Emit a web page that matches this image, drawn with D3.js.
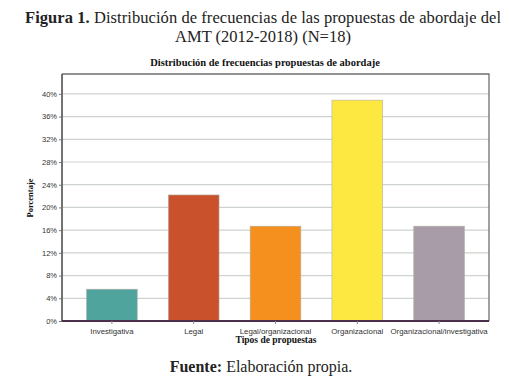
<!DOCTYPE html>
<html>
<head>
<meta charset="utf-8">
<script src="https://cdn.jsdelivr.net/npm/d3@7"></script>
<style>
  body { margin: 0; background: #fff; }
  svg { display: block; }
</style>
</head>
<body>
<div id="chart"></div>
<script>
  // data: 18 proposals
  const categories = ['Investigativa', 'Legal', 'Legal/organizacional', 'Organizacional', 'Organizacional/investigativa'];
  const counts = [1, 4, 3, 7, 3];
  const percents = [5.6, 22.2, 16.7, 38.9, 16.7];
  const yTicks = [0, 4, 8, 12, 16, 20, 24, 28, 32, 36, 40];
  const colors = ['#4fa59e', '#c9522c', '#f5901f', '#fde842', '#a99ca9'];

  const w = 526;
  const h = 378;
  const plot = { left: 62, right: 489, top: 74, bottom: 321 };

  let svg = d3.select('#chart').append('svg')
    .attr('width', w)
    .attr('height', h);

  //figure caption
  let cap = svg.append('text')
    .attr('x', 263)
    .attr('y', 23)
    .attr('text-anchor', 'middle')
    .attr('textLength', 476)
    .attr('lengthAdjust', 'spacing')
    .style('font-family', 'Liberation Serif, serif')
    .style('font-size', '16.5px')
    .style('fill', '#222');
  cap.append('tspan').style('font-weight', 'bold').text('Figura 1.');
  cap.append('tspan').text(' Distribución de frecuencias de las propuestas de abordaje del');

  svg.append('text')
    .attr('x', 263)
    .attr('y', 42)
    .attr('text-anchor', 'middle')
    .style('font-family', 'Liberation Serif, serif')
    .style('font-size', '16.5px')
    .style('fill', '#222')
    .text('AMT (2012-2018) (N=18)');

  //chart title
  svg.append('text')
    .attr('x', 265)
    .attr('y', 66)
    .attr('text-anchor', 'middle')
    .style('font-family', 'Liberation Serif, serif')
    .style('font-weight', 'bold')
    .style('font-size', '10.5px')
    .style('fill', '#111')
    .text('Distribución de frecuencias propuestas de abordaje');

  const x = d3.scaleBand()
    .domain(categories)
    .range([plot.left, plot.right])
    .paddingInner(0.38)
    .paddingOuter(0.3);

  const y = d3.scaleLinear()
    .domain([0, 43.5])
    .range([plot.bottom, plot.top]);

  //gridlines
  svg.append('g')
    .selectAll('line')
    .data(yTicks.filter(d => d > 0))
    .enter()
    .append('line')
      .attr('x1', plot.left)
      .attr('x2', plot.right)
      .attr('y1', d => y(d))
      .attr('y2', d => y(d))
      .attr('stroke', '#cdd3cd')
      .attr('stroke-width', 1.2);

  //bars
  svg.append('g')
    .selectAll('rect')
    .data(percents)
    .enter()
    .append('rect')
      .attr('x', (d, i) => x(categories[i]))
      .attr('y', d => y(d))
      .attr('width', x.bandwidth())
      .attr('height', d => y(0) - y(d))
      .attr('fill', (d, i) => colors[i])
      .attr('stroke', '#b5b0a8')
      .attr('stroke-width', 0.6);

  //frame
  svg.append('path')
    .attr('d', `M${plot.left},${plot.top}H${plot.right}V${plot.bottom}`)
    .attr('fill', 'none')
    .attr('stroke', '#6f6f6f')
    .attr('stroke-width', 1.3);

  //y axis
  const yAxis = svg.append('g')
    .attr('transform', `translate(${plot.left},0)`)
    .call(d3.axisLeft(y).tickValues(yTicks).tickSize(3).tickPadding(2).tickFormat(d => d + '%'));
  yAxis.select('.domain').attr('stroke', '#444').attr('stroke-width', 1.5)
    .attr('d', `M0,${plot.top}V${plot.bottom}`);
  yAxis.selectAll('.tick line').attr('stroke', '#777');
  yAxis.selectAll('text')
    .style('font-family', 'Liberation Sans, Arial, sans-serif')
    .style('font-size', '7.5px')
    .style('fill', '#333');

  //x axis
  const xAxis = svg.append('g')
    .attr('transform', `translate(0,${plot.bottom})`)
    .call(d3.axisBottom(x).tickSize(3).tickPadding(4));
  xAxis.select('.domain').attr('stroke', '#4b2f4b').attr('stroke-width', 2.2)
    .attr('d', `M${plot.left},0H${plot.right}`);
  xAxis.selectAll('.tick line').attr('stroke', '#888');
  xAxis.selectAll('text')
    .style('font-family', 'Liberation Sans, Arial, sans-serif')
    .style('font-size', '7.8px')
    .style('fill', '#333');

  //axis titles
  svg.append('text')
    .attr('x', 276)
    .attr('y', 343)
    .attr('text-anchor', 'middle')
    .style('font-family', 'Liberation Serif, serif')
    .style('font-weight', 'bold')
    .style('font-size', '9.5px')
    .style('fill', '#111')
    .text('Tipos de propuestas');

  svg.append('text')
    .attr('transform', 'translate(33,198) rotate(-90)')
    .attr('text-anchor', 'middle')
    .style('font-family', 'Liberation Serif, serif')
    .style('font-weight', 'bold')
    .style('font-size', '8.5px')
    .style('fill', '#111')
    .text('Porcentaje');

  //source
  let src = svg.append('text')
    .attr('x', 261)
    .attr('y', 372)
    .attr('text-anchor', 'middle')
    .style('font-family', 'Liberation Serif, serif')
    .style('font-size', '16px')
    .style('fill', '#222');
  src.append('tspan').style('font-weight', 'bold').text('Fuente:');
  src.append('tspan').text(' Elaboración propia.');
</script>
</body>
</html>
